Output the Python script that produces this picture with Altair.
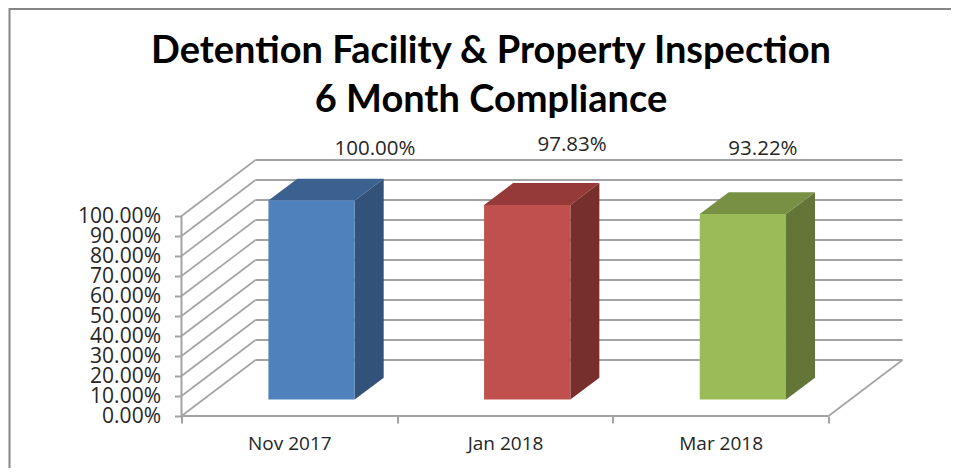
import altair as alt
import pandas as pd

categories = ["Nov 2017", "Jan 2018", "Mar 2018"]
values = [100.00, 97.83, 93.22]
front_colors = ["#4F81BD", "#C0504D", "#9BBB59"]
side_colors = ["#32527A", "#772F2D", "#637637"]
top_colors = ["#3A618F", "#953A38", "#779044"]
label_dx = [0.397, 0.311, 0.196]
label_y = [133.5, 135.5, 133.5]
title_lines = ["Detention Facility & Property Inspection", "6 Month Compliance"]
ticks = list(range(0, 101, 10))

# layout, in axis units: one category = 1 on x, one percent = 1 on y
PX_X = 215.67
PX_Y = 2.0
WALL_DX, WALL_DY = 74 / PX_X, 28.0
BAR_L, BAR_W = 0.403, 0.40
BAR_DX, BAR_DY = 29 / PX_X, 10.9
FLOOR = 8.2
W, H = 722, 256
GRID = "#A3A3A3"
FONT = "Open Sans"
TEXT = "#262626"

x_scale = alt.Scale(domain=[0, W / PX_X], nice=False, zero=False)
y_scale = alt.Scale(domain=[0, H / PX_Y], nice=False, zero=False)
X = lambda f="x": alt.X(f"{f}:Q", scale=x_scale, axis=None)
Y = lambda f="y": alt.Y(f"{f}:Q", scale=y_scale, axis=None)

wall = pd.DataFrame({"y": ticks})
wall["x"] = 0.0
wall["x1"] = WALL_DX
wall["x2"] = 3 + WALL_DX
wall["yb"] = wall["y"] + WALL_DY

side_grid = alt.Chart(wall).mark_rule(color=GRID, strokeWidth=1.6).encode(
    x=X("x"), x2="x1:Q", y=Y("y"), y2="yb:Q")
back_grid = alt.Chart(wall).mark_rule(color=GRID, strokeWidth=1.8).encode(
    x=X("x1"), x2="x2:Q", y=Y("yb"))
floor_df = pd.DataFrame({"x": [3.0], "x1": [3 + WALL_DX], "y": [0.0], "yb": [WALL_DY]})
floor_side = alt.Chart(floor_df).mark_rule(color=GRID, strokeWidth=1.6).encode(
    x=X("x"), x2="x1:Q", y=Y("y"), y2="yb:Q")

front_rows, side_rows, top_rows = [], [], []
for i, v in enumerate(values):
    l, r = i + BAR_L, i + BAR_L + BAR_W
    t = FLOOR + v * 0.995
    c = categories[i]
    front_rows += [{"c": c, "x": l, "x2": r, "y": FLOOR, "y2": t}]
    side_rows += [
        {"c": c, "x": r, "y": FLOOR, "y2": t},
        {"c": c, "x": r + BAR_DX, "y": FLOOR + BAR_DY, "y2": t + BAR_DY},
    ]
    top_rows += [
        {"c": c, "x": l, "y": t, "y2": t},
        {"c": c, "x": l + BAR_DX, "y": t, "y2": t + BAR_DY},
        {"c": c, "x": r, "y": t, "y2": t + BAR_DY},
        {"c": c, "x": r + BAR_DX, "y": t + BAR_DY, "y2": t + BAR_DY},
    ]

def col(colors):
    return alt.Color("c:N", scale=alt.Scale(domain=categories, range=colors), legend=None)

front = alt.Chart(pd.DataFrame(front_rows)).mark_rect().encode(
    x=X("x"), x2="x2:Q", y=Y("y"), y2="y2:Q", color=col(front_colors))
side = alt.Chart(pd.DataFrame(side_rows)).mark_area().encode(
    x=X("x"), y=Y("y"), y2="y2:Q", color=col(side_colors), detail="c:N")
top = alt.Chart(pd.DataFrame(top_rows)).mark_area().encode(
    x=X("x"), y=Y("y"), y2="y2:Q", color=col(top_colors), detail="c:N")

labels_df = pd.DataFrame({
    "x": [i + 0.5 + d for i, d in enumerate(label_dx)],
    "y": label_y,
    "t": [f"{v:.2f}%" for v in values],
})
labels = alt.Chart(labels_df).mark_text(font=FONT, fontSize=20.5, color=TEXT).encode(
    x=X("x"), y=Y("y"), text="t:N")

cat_expr = ("datum.value === 0.5 ? '" + categories[0] + "' : datum.value === 1.5 ? '"
            + categories[1] + "' : datum.value === 2.5 ? '" + categories[2] + "' : ''")

axes = alt.Chart(pd.DataFrame({"x": [0.0], "y": [0.0]})).mark_point(opacity=0).encode(
    x=alt.X("x:Q", scale=x_scale, axis=alt.Axis(
        values=[0, 0.5, 1, 1.5, 2, 2.5, 3], labelExpr=cat_expr, title=None, grid=False,
        domain=False, tickColor=GRID, tickWidth=2, tickSize=7, labelFlush=False, labelOverlap=False,
        tickOpacity={"condition": {"test": "datum.value % 1 === 0", "value": 1}, "value": 0},
        labelFont=FONT, labelFontSize=19, labelColor=TEXT, labelPadding=11)),
    y=alt.Y("y:Q", scale=y_scale, axis=alt.Axis(
        values=ticks, labelExpr="format(datum.value, '.2f') + '%'", title=None, grid=False,
        domain=False, tickColor=GRID, tickWidth=2, tickSize=7, labelOverlap=False, labelFlush=False,
        labelFont=FONT, labelFontSize=21, labelColor=TEXT, labelPadding=14)),
)

axis_line = alt.Chart(pd.DataFrame({"x": [0.0], "y": [0.0], "y2": [100.0]})).mark_rule(
    color=GRID, strokeWidth=2).encode(x=X("x"), y=Y("y"), y2="y2:Q")
floor_front = alt.Chart(pd.DataFrame({"x": [0.0], "x2": [3.0], "y": [0.0]})).mark_rule(
    color=GRID, strokeWidth=2).encode(x=X("x"), x2="x2:Q", y=Y("y"))

# outer chart frame, in pixels relative to the plot area
frame_left = alt.Chart(pd.DataFrame({"a": [0]})).mark_rule(color="#868686", strokeWidth=2).encode(
    x=alt.value(-172), y=alt.value(-152), y2=alt.value(308))
frame_top = alt.Chart(pd.DataFrame({"a": [0]})).mark_rule(color="#868686", strokeWidth=2).encode(
    x=alt.value(-172), x2=alt.value(770), y=alt.value(-151))

title_df = pd.DataFrame({"t": title_lines, "row": [0, 1]})
title_1 = alt.Chart(title_df[title_df.row == 0]).mark_text(
    font="Lato", fontSize=38, fontWeight="bold", color="#000000").encode(
    x=alt.value(309.5), y=alt.value(-108), text="t:N")
title_2 = alt.Chart(title_df[title_df.row == 1]).mark_text(
    font="Lato", fontSize=38, fontWeight="bold", color="#000000").encode(
    x=alt.value(309.5), y=alt.value(-59), text="t:N")

chart = alt.layer(
    frame_left, frame_top, title_1, title_2, side_grid, back_grid, floor_side, axis_line, floor_front,
    side, top, front, labels, axes,
).resolve_scale(color="independent").resolve_axis(x="independent", y="independent").properties(
    width=W, height=H,
    background="#FFFFFF",
    padding={"left": 173.5, "top": 152, "right": 47.5, "bottom": 52},
    autosize=alt.AutoSizeParams(type="none"),
).configure_view(stroke=None)

chart.save("out.html", embed_options={"renderer": "svg", "actions": False})
